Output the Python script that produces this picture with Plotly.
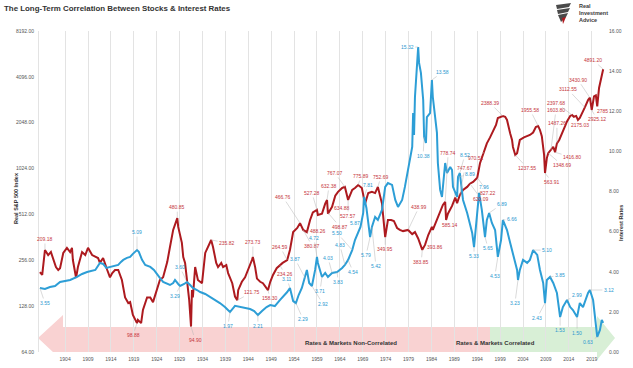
import math
import plotly.graph_objects as go

# ---------------- data ----------------
red_years = [1898.5, 1899.0, 1899.6, 1900.3, 1900.9, 1901.4, 1902.0, 1902.5, 1902.9, 1903.6,
             1904.4, 1905.1, 1905.5, 1905.7, 1906.4, 1906.8, 1907.7, 1908.4, 1909.0, 1909.9,
             1910.6, 1911.2, 1911.6, 1912.3, 1913.2, 1913.8, 1914.3, 1914.9, 1915.6, 1916.4,
             1917.1, 1917.8, 1918.2, 1918.8, 1919.7, 1919.9, 1920.6, 1921.0, 1921.9, 1922.6,
             1923.2, 1924.1, 1924.7, 1925.4, 1926.3, 1926.9, 1927.6, 1928.5, 1928.7, 1929.5,
             1929.8, 1930.2, 1930.6, 1931.1, 1931.5, 1931.7, 1931.9, 1932.4, 1933.0, 1933.9,
             1934.6, 1935.2, 1935.9, 1936.3, 1937.0, 1937.4, 1938.1, 1938.5, 1939.2, 1939.6,
             1940.5, 1941.1, 1941.6, 1941.8, 1942.6, 1943.3, 1944.0, 1944.8, 1945.0, 1945.5,
             1945.9, 1946.6, 1947.2, 1947.9, 1948.3, 1948.8, 1949.4, 1950.2, 1950.9, 1951.5,
             1952.5, 1953.1, 1953.8, 1954.7, 1955.3, 1956.0, 1956.8, 1957.5, 1958.1, 1959.0,
             1959.2, 1960.1, 1960.8, 1961.2, 1961.4, 1962.3, 1963.0, 1963.6, 1964.5, 1965.1,
             1965.8, 1966.7, 1967.3, 1968.0, 1968.8, 1969.5, 1970.2, 1971.0, 1971.7, 1972.3,
             1973.2, 1973.9, 1974.5, 1975.2, 1975.8, 1976.5, 1977.1, 1977.8, 1978.9, 1979.8,
             1980.4, 1981.1, 1982.0, 1982.6, 1983.3, 1984.1, 1984.3, 1985.2, 1985.9, 1986.5,
             1987.0, 1987.2, 1987.6, 1988.5, 1989.2, 1989.6, 1990.2, 1990.9, 1991.8, 1992.4,
             1993.1, 1994.0, 1994.6, 1995.5, 1996.1, 1996.8, 1997.5, 1998.1, 1998.5, 1999.2,
             1999.6, 2000.1, 2000.5, 2001.2, 2001.6, 2001.8, 2002.3, 2002.7, 2003.3, 2004.2,
             2004.9, 2005.5, 2006.2, 2006.8, 2007.3, 2007.7, 2008.1, 2008.6, 2008.8, 2009.2,
             2009.5, 2010.1, 2010.6, 2011.0, 2011.4, 2011.9, 2012.5, 2013.2, 2013.6, 2014.3,
             2014.7, 2015.1, 2015.6, 2016.0, 2016.4, 2017.1, 2017.5, 2018.2, 2018.6, 2019.0,
             2019.5, 2019.9, 2020.2, 2020.6, 2021.0, 2021.5]
red_values = [214, 205, 299, 277, 290, 265, 231, 221, 227, 286,
              309, 290, 309, 257, 196, 231, 290, 277, 309, 277,
              269, 265, 246, 265, 221, 198, 211, 221, 221, 190,
              146, 134, 136, 112, 99, 104, 99, 121, 146, 146,
              136, 163, 190, 198, 249, 313, 405, 484, 424, 333,
              269, 246, 198, 140, 94, 163, 146, 231, 190, 181,
              286, 313, 348, 313, 246, 231, 246, 231, 238, 211,
              181, 148, 140, 163, 185, 198, 221, 257, 269, 231,
              194, 185, 181, 170, 163, 185, 205, 227, 238, 246,
              257, 299, 392, 417, 449, 405, 392, 471, 527, 548,
              508, 518, 603, 637, 518, 574, 680, 720, 764, 776,
              637, 741, 764, 799, 764, 603, 707, 720, 707, 776,
              603, 363, 471, 471, 464, 417, 405, 398, 405, 380,
              392, 356, 300, 323, 375, 424, 405, 471, 527, 591,
              620, 471, 518, 582, 660, 608, 687, 741, 776, 815,
              837, 892, 1110, 1310, 1500, 1640, 1835, 1979, 2200, 2240,
              2267, 2240, 2135, 1740, 1578, 1420, 1258, 1293, 1578, 1640,
              1670, 1702, 1765, 1920, 1950, 1835, 1670, 1258, 957, 1200,
              1293, 1356, 1420, 1310, 1500, 1578, 1765, 1950, 2090, 2270,
              2303, 2240, 2270, 2135, 2200, 2410, 2580, 2888, 2990, 2483,
              3050, 3100, 2620, 3460, 3908, 4600]

blue_years = [1898.5, 1899.6, 1900.7, 1901.8, 1902.9, 1904.0, 1905.1, 1906.6, 1907.7, 1908.8,
              1909.9, 1910.6, 1911.6, 1912.3, 1913.0, 1913.8, 1914.7, 1915.6, 1916.2, 1916.7,
              1917.5, 1918.2, 1918.8, 1919.7, 1920.1, 1920.8, 1921.5, 1922.6, 1923.4, 1924.1,
              1924.7, 1925.4, 1926.3, 1926.9, 1927.6, 1928.0, 1928.7, 1929.1, 1930.0, 1930.6,
              1931.3, 1931.9, 1932.8, 1933.5, 1934.6, 1935.7, 1936.8, 1937.8, 1938.9, 1940.0,
              1941.1, 1942.2, 1943.3, 1944.4, 1945.3, 1946.1, 1947.0, 1948.0, 1948.8, 1949.8,
              1950.9, 1951.8, 1952.5, 1953.1, 1953.8, 1954.4, 1955.0, 1955.7, 1956.4, 1956.8,
              1957.3, 1957.9, 1958.6, 1959.0, 1959.2, 1960.1, 1960.8, 1961.4, 1962.3, 1963.4,
              1964.5, 1965.1, 1965.8, 1966.7, 1967.3, 1967.8, 1968.5, 1969.1, 1969.3, 1969.8,
              1970.2, 1970.6, 1971.0, 1971.7, 1972.3, 1973.2, 1973.9, 1974.5, 1975.4, 1976.1,
              1976.7, 1977.6, 1978.2, 1978.9, 1979.8, 1980.0, 1980.2, 1980.4, 1980.9, 1981.1,
              1981.3, 1981.7, 1982.2, 1982.4, 1982.8, 1983.0, 1983.7, 1984.1, 1984.3, 1984.8,
              1985.2, 1985.4, 1985.9, 1986.3, 1987.0, 1987.4, 1988.1, 1988.5, 1988.7, 1989.6,
              1989.8, 1990.2, 1990.7, 1990.9, 1991.8, 1992.9, 1993.3, 1994.0, 1994.4, 1995.0,
              1995.7, 1996.1, 1996.6, 1997.2, 1997.9, 1998.5, 1999.2, 1999.6, 2000.5, 2001.2,
              2001.8, 2002.7, 2002.9, 2003.3, 2004.0, 2004.9, 2005.5, 2006.2, 2007.1, 2007.7,
              2008.4, 2008.8, 2009.2, 2009.9, 2010.6, 2011.4, 2012.1, 2012.7, 2013.6, 2014.3,
              2014.9, 2015.8, 2016.4, 2017.1, 2018.2, 2018.6, 2019.3, 2019.7, 2020.2, 2020.8,
              2021.2, 2021.5]
blue_rates = [3.19, 3.14, 3.24, 3.29, 3.49, 3.54, 3.59, 3.74, 3.89, 3.99,
              4.04, 4.09, 4.44, 4.39, 4.19, 4.24, 4.29, 4.34, 4.49, 4.59,
              4.69, 4.74, 4.89, 5.08, 4.99, 4.59, 4.34, 4.24, 4.09, 3.84,
              3.69, 3.49, 3.39, 3.34, 3.44, 3.59, 3.39, 3.29, 3.39, 3.49,
              3.34, 3.19, 3.09, 2.99, 2.89, 2.74, 2.59, 2.44, 2.24, 1.99,
              2.30, 2.24, 2.19, 2.14, 2.04, 1.84, 2.04, 2.24, 2.34, 2.29,
              2.59, 2.79, 2.99, 3.19, 2.54, 2.44, 2.84, 3.19, 3.69, 4.09,
              3.44, 3.29, 4.09, 4.74, 4.44, 3.74, 3.94, 3.74, 3.94, 3.99,
              4.19, 4.34, 4.59, 5.08, 5.58, 5.83, 6.23, 6.93, 7.73, 7.18,
              6.43, 5.73, 6.23, 6.73, 6.58, 7.08, 8.23, 8.42, 8.33, 7.58,
              7.23, 7.58, 8.23, 9.07, 10.22, 11.91, 10.82, 12.71, 14.41, 15.20,
              14.41, 13.91, 12.56, 10.72, 10.42, 11.71, 11.91, 13.56, 12.71, 11.57,
              10.92, 9.42, 8.08, 7.73, 9.42, 8.92, 9.22, 9.07, 8.23, 7.73,
              8.72, 8.92, 7.93, 7.58, 6.93, 5.93, 5.23, 7.23, 7.93, 7.08,
              5.73, 6.58, 6.93, 6.43, 6.08, 4.74, 5.58, 6.58, 6.08, 5.43,
              4.94, 4.09, 3.59, 4.09, 4.59, 4.44, 4.59, 5.08, 4.84, 4.09,
              3.44, 2.44, 3.59, 3.74, 3.44, 2.94, 1.74, 2.24, 2.59, 2.24,
              2.09, 1.74, 2.44, 2.24, 2.94, 3.09, 2.59, 1.74, 0.75, 1.10,
              1.60, 1.45]

x_tick_years = [1904, 1909, 1914, 1919, 1924, 1929, 1934, 1939, 1944, 1949, 1954, 1959,
                1964, 1969, 1974, 1979, 1984, 1989, 1994, 1999, 2004, 2009, 2014, 2019]
left_ticks = [64, 128, 256, 512, 1024, 2048, 4096, 8192]
right_ticks = [0, 2, 4, 6, 8, 10, 12, 14, 16]

# annotated values (text, anchor year, anchor value)
red_label_text = ["209.18", "480.85", "98.88", "94.90", "235.82", "273.73", "121.75", "158.30",
                  "264.59", "234.26", "466.76", "527.28", "632.38", "767.07", "775.89", "752.69",
                  "634.88", "488.26", "498.87", "527.57", "380.87", "349.95", "438.99", "393.86",
                  "383.85", "620.09", "827.22", "970.51", "2388.39", "1955.58", "1237.55", "563.91",
                  "1348.69", "1416.80", "1487.26", "1603.80", "2397.68", "2175.03", "3112.55",
                  "3430.90", "4891.20", "2925.12", "2785", "778.74", "747.67", "585.14"]
red_label_year = [1899.6, 1928.5, 1919.7, 1931.5, 1935.9, 1945.0, 1941.6, 1948.3,
                  1952.5, 1950.9, 1955.3, 1959.0, 1961.2, 1965.1, 1968.0, 1972.3,
                  1963.0, 1956.8, 1961.4, 1965.8, 1956.0, 1973.9, 1978.9, 1983.3,
                  1982.0, 1992.4, 1994.0, 1995.5, 1999.6, 2007.3, 2002.3, 2008.8,
                  2009.5, 2011.0, 2011.4, 2010.1, 2014.7, 2016.0, 2017.5,
                  2018.6, 2021.5, 2019.0, 2020.2, 1987.0, 1990.2, 1987.2]
red_label_value = [299, 484, 99, 94, 348, 269, 140, 163,
                   257, 238, 449, 548, 637, 776, 799, 776,
                   680, 392, 525, 637, 405, 363, 405, 375,
                   300, 815, 892, 1310, 2267, 1950, 1258, 957,
                   1293, 1310, 1500, 1356, 2303, 2135, 2580,
                   2990, 4600, 2483, 2620, 620, 687, 471]
red_label_offset = [(0, -11), (0, -11), (-4, 12), (4, 13), (16, 3), (0, -15), (15, -8), (2, 8),
                    (-7, -13), (5, 9), (-17, -26), (-5, -17), (2, -14), (-10, -14), (3, -9), (3, -10),
                    (7, 12), (11, -1), (12, 14), (0, 16), (9, 16), (0, 12), (11, -23), (7, 12),
                    (-1, 12), (11, 15), (11, 15), (-8, 6), (-13, -13), (-8, -16), (12, 13), (7, 9),
                    (14, 12), (17, 5), (0, -20), (5, -40), (-16, -12), (2, 5), (-17, -18),
                    (-12, -18), (-10, -9), (5, 9), (5, 5), (3, -49), (5, -27), (4, 5)]

blue_label_text = ["3.55", "5.09", "3.60", "3.29", "1.97", "2.21", "3.11", "3.87", "2.29", "2.92",
                   "4.72", "3.71", "4.03", "4.83", "3.83", "5.50", "5.87", "4.54", "7.81", "5.79",
                   "5.42", "15.32", "13.58", "10.38", "8.52", "8.89", "7.96", "6.89", "6.66", "5.33",
                   "5.65", "4.53", "5.10", "3.85", "3.23", "2.43", "2.99", "3.12", "1.53", "1.50", "0.63"]
blue_label_year = [1898.5, 1919.7, 1930.6, 1929.1, 1940.0, 1946.1, 1953.1, 1956.4, 1954.4, 1957.9,
                   1959.0, 1960.1, 1962.3, 1965.1, 1963.4, 1966.7, 1968.5, 1965.8, 1969.3, 1970.6,
                   1971.0, 1981.1, 1984.1, 1982.4, 1990.2, 1989.8, 1994.4, 1996.6, 1999.6, 1993.3,
                   1995.7, 1998.5, 2006.2, 2009.9, 2002.9, 2008.8, 2013.6, 2018.6, 2012.1, 2015.8, 2020.2]
blue_label_rate = [3.19, 5.08, 3.49, 3.29, 1.99, 1.84, 3.19, 3.69, 2.44, 3.29,
                   4.74, 3.74, 3.94, 4.34, 3.99, 5.08, 6.23, 4.59, 7.73, 5.73,
                   6.23, 15.20, 13.56, 10.72, 8.92, 8.72, 7.93, 6.93, 6.58, 5.23,
                   5.73, 4.74, 5.08, 3.74, 3.59, 2.44, 2.59, 3.09, 1.74, 1.74, 0.75]
blue_label_offset = [(5, 15), (0, -18), (-7, -15), (-5, 10), (-2, 14), (0, 11), (-3, -9), (-10, -19),
                     (7, 16), (11, 18), (-3, -19), (-2, 14), (-4, -15), (-5, -20), (1, 10), (-15, -17),
                     (-5, -4), (5, 12), (4, -12), (-4, 18), (4, 39), (-11, 0), (11, -8), (-1, 19),
                     (5, -18), (12, -3), (5, -6), (13, -9), (9, -1), (0, 9), (3, 11), (-3, 19),
                     (14, 0), (10, -2), (-3, 23), (-8, 15), (10, -5), (19, 0), (0, 13), (0, 16), (-9, 5)]

# ---------------- styles ----------------
RED = "#ad1a1f"
BLUE = "#2d9ed6"
RED_TXT = "#c5353b"
BLUE_TXT = "#2a98cf"
FONT = "Liberation Sans, Arial, sans-serif"

W, H = 633, 368
ML, MR, MT, MB = 39, 28, 31, 16
PW, PH = W - ML - MR, H - MT - MB


def px(x):
    return (x - ML) / PW


def py(y):
    return (H - MB - y) / PH


fig = go.Figure()
fig.add_trace(go.Scatter(x=red_years, y=red_values, mode="lines",
                         line=dict(color=RED, width=2), yaxis="y", name="Real S&P 500"))
fig.add_trace(go.Scatter(x=blue_years, y=blue_rates, mode="lines",
                         line=dict(color=BLUE, width=2), yaxis="y2", name="Interest Rates"))

ann = []
for t, yr, v, (dx, dy) in zip(red_label_text, red_label_year, red_label_value, red_label_offset):
    ann.append(dict(x=yr, y=math.log10(v), xref="x", yref="y", text=t, showarrow=True,
                    arrowhead=0, arrowwidth=0.5, arrowcolor="#b5b5b5", ax=dx, ay=dy, standoff=0,
                    font=dict(size=5, color=RED_TXT, family=FONT)))
for t, yr, v, (dx, dy) in zip(blue_label_text, blue_label_year, blue_label_rate, blue_label_offset):
    ann.append(dict(x=yr, y=v, xref="x", yref="y2", text=t, showarrow=True,
                    arrowhead=0, arrowwidth=0.5, arrowcolor="#b5b5b5", ax=dx, ay=dy, standoff=0,
                    font=dict(size=5, color=BLUE_TXT, family=FONT)))

# titles & texts
ann += [
    dict(x=px(2), y=py(9), xref="paper", yref="paper", xanchor="left", yanchor="middle",
         text="<b>The Long-Term Correlation Between Stocks & Interest Rates</b>", showarrow=False,
         font=dict(size=7.9, color="#333333", family=FONT)),
    dict(x=px(11), y=py(198), xref="paper", yref="paper", text="<b>Real S&P 500 Index</b>",
         textangle=-90, showarrow=False, font=dict(size=5.5, color="#333333", family=FONT)),
    dict(x=px(626), y=py(223), xref="paper", yref="paper", text="<b>Interest Rates</b>",
         textangle=-90, showarrow=False, font=dict(size=5.5, color="#333333", family=FONT)),
    dict(x=px(351), y=py(348), xref="paper", yref="paper", text="<b>Rates & Markets Non-Correlated</b>",
         showarrow=False, font=dict(size=6, color="#333333", family=FONT)),
    dict(x=px(537), y=py(348), xref="paper", yref="paper", text="<b>Rates & Markets Correlated</b>",
         showarrow=False, font=dict(size=6, color="#333333", family=FONT)),
    dict(x=px(577), y=py(12.5), xref="paper", yref="paper", xanchor="left", yanchor="middle",
         text="<b>Real<br>Investment<br>Advice</b>", align="left", showarrow=False,
         font=dict(size=5.5, color="#3a3a3a", family=FONT)),
]


def poly(points):
    return "M " + " L ".join(f"{px(a):.4f},{py(b):.4f}" for a, b in points) + " Z"


shapes = [
    dict(type="path", xref="paper", yref="paper", layer="below", line=dict(width=0),
         fillcolor="#f9d2d2",
         path=poly([(38, 338), (63, 315), (63, 327), (490, 327), (490, 352), (53, 352)])),
    dict(type="path", xref="paper", yref="paper", layer="below", line=dict(width=0),
         fillcolor="#d8efd6",
         path=poly([(490, 327), (597, 327), (597, 316), (615, 338), (597, 360), (597, 352), (490, 352)])),
    # logo emblem
    dict(type="path", xref="paper", yref="paper", line=dict(width=0), fillcolor="#4a4a4a",
         path=poly([(556, 5), (571, 3), (569, 7), (557, 9)])),
    dict(type="path", xref="paper", yref="paper", line=dict(width=0), fillcolor="#4a4a4a",
         path=poly([(557, 10), (570, 8), (568, 12), (558, 14)])),
    dict(type="path", xref="paper", yref="paper", line=dict(width=0), fillcolor="#4a4a4a",
         path=poly([(558, 15), (568, 13), (566, 17), (561, 22)])),
    dict(type="path", xref="paper", yref="paper", line=dict(width=0), fillcolor="#b0191e",
         path=poly([(562, 18), (566, 17), (563, 24)])),
]

fig.update_layout(
    width=W, height=H,
    margin=dict(l=ML, r=MR, t=MT, b=MB, pad=0, autoexpand=False),
    paper_bgcolor="white", plot_bgcolor="white",
    showlegend=False,
    font=dict(family=FONT, color="#444444"),
    xaxis=dict(range=[1898.3, 2021.9], tickmode="array", tickvals=x_tick_years,
               ticktext=[str(v) for v in x_tick_years], showgrid=True, gridcolor="#e3e3e3",
               gridwidth=1, zeroline=False, showline=False, ticks="", automargin=False,
               tickfont=dict(size=5, color="#555555"), ticklabelstandoff=3),
    yaxis=dict(type="log", range=[math.log10(64), math.log10(8192)], tickmode="array",
               tickvals=left_ticks, ticktext=[f"{v:.2f}" for v in left_ticks], automargin=False,
               showgrid=False, zeroline=False, showline=True, linecolor="#e3e3e3", ticks="",
               tickfont=dict(size=5, color="#555555"), ticklabelstandoff=3),
    yaxis2=dict(overlaying="y", side="right", range=[0, 16], tickmode="array", automargin=False,
                tickvals=right_ticks, ticktext=[f"{v:.2f}" for v in right_ticks],
                showgrid=False, zeroline=False, showline=False, ticks="",
                tickfont=dict(size=5, color="#555555"), ticklabelstandoff=3),
    annotations=ann,
    shapes=shapes,
)

fig.write_html("out.html")
